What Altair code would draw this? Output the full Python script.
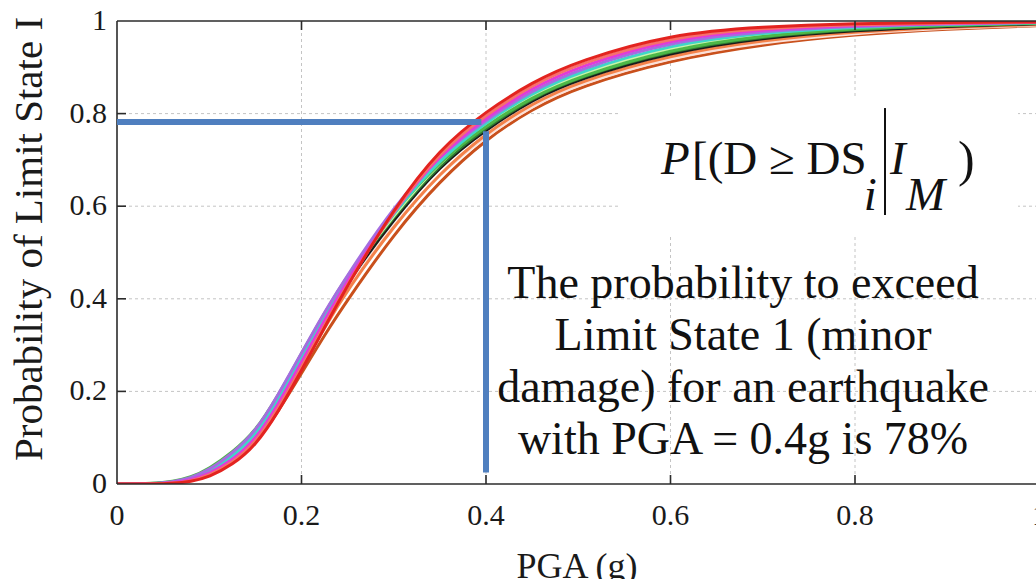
import altair as alt
import pandas as pd

# ---------------- data ----------------
PGA = [0, 0.04, 0.06, 0.08, 0.1, 0.125, 0.15, 0.175, 0.2, 0.225, 0.25,
       0.3, 0.35, 0.4, 0.45, 0.5, 0.6, 0.7, 0.8, 0.9, 1.0]

brown = [0, 0.0002, 0.0015, 0.007, 0.018, 0.045, 0.086, 0.157, 0.239, 0.322, 0.398,
         0.54, 0.655, 0.745, 0.81, 0.858, 0.916, 0.95, 0.971, 0.983, 0.99]
pale = [0, 0.0003, 0.002, 0.008, 0.02, 0.048, 0.09, 0.164, 0.252, 0.341, 0.425,
        0.56, 0.672, 0.752, 0.817, 0.864, 0.922, 0.955, 0.974, 0.985, 0.991]
orange = [0, 0.0003, 0.002, 0.008, 0.02, 0.048, 0.09, 0.164, 0.25, 0.338, 0.42,
          0.558, 0.672, 0.758, 0.822, 0.869, 0.927, 0.959, 0.977, 0.987, 0.992]
black = [0, 0.0005, 0.003, 0.01, 0.023, 0.054, 0.098, 0.172, 0.262, 0.352, 0.437,
         0.572, 0.688, 0.766, 0.83, 0.875, 0.933, 0.964, 0.98, 0.989, 0.994]
darkgreen = [0, 0.0005, 0.003, 0.01, 0.025, 0.056, 0.101, 0.177, 0.27, 0.361, 0.445,
             0.578, 0.692, 0.77, 0.834, 0.879, 0.937, 0.967, 0.982, 0.99, 0.995]
lightgreen = [0, 0.0005, 0.003, 0.011, 0.026, 0.058, 0.103, 0.18, 0.273, 0.364, 0.448,
              0.582, 0.697, 0.778, 0.841, 0.886, 0.946, 0.973, 0.986, 0.992, 0.996]
green = [0, 0.001, 0.005, 0.014, 0.033, 0.068, 0.113, 0.192, 0.282, 0.37, 0.452,
         0.588, 0.698, 0.774, 0.836, 0.88, 0.94, 0.969, 0.984, 0.991, 0.995]
cyan = [0, 0.0005, 0.003, 0.011, 0.026, 0.059, 0.104, 0.182, 0.275, 0.366, 0.449,
        0.587, 0.702, 0.782, 0.845, 0.89, 0.95, 0.975, 0.987, 0.993, 0.996]
purple = [0, 0.001, 0.004, 0.013, 0.03, 0.066, 0.112, 0.193, 0.283, 0.372, 0.452,
          0.6, 0.71, 0.787, 0.85, 0.896, 0.956, 0.978, 0.989, 0.994, 0.997]
magenta = [0, 0.0003, 0.002, 0.008, 0.022, 0.051, 0.095, 0.172, 0.264, 0.354, 0.442,
           0.59, 0.713, 0.792, 0.856, 0.902, 0.962, 0.982, 0.991, 0.995, 0.997]
salmon = [0, 0.0002, 0.0015, 0.006, 0.018, 0.046, 0.088, 0.163, 0.253, 0.343, 0.433,
          0.592, 0.718, 0.798, 0.862, 0.908, 0.966, 0.985, 0.993, 0.996, 0.998]
red = [0, 0.0001, 0.001, 0.005, 0.015, 0.041, 0.082, 0.156, 0.245, 0.338, 0.43,
       0.595, 0.725, 0.805, 0.868, 0.914, 0.972, 0.988, 0.995, 0.997, 0.998]

CURVES = [
    ("brown", brown, "#c9501c"),
    ("pale", pale, "#fbe0d8"),
    ("orange", orange, "#f4824a"),
    ("black", black, "#1a1a1a"),
    ("darkgreen", darkgreen, "#2f7d32"),
    ("lightgreen", lightgreen, "#c8f5a8"),
    ("green", green, "#4db848"),
    ("cyan", cyan, "#3fd6c8"),
    ("purple", purple, "#a46de0"),
    ("magenta", magenta, "#e23ad8"),
    ("salmon", salmon, "#f7706b"),
    ("red", red, "#e3231f"),
]

X_TICK_VALUES = [0, 0.2, 0.4, 0.6, 0.8, 1.0]
X_TICK_LABELS = ["0", "0.2", "0.4", "0.6", "0.8", "1"]
Y_TICK_VALUES = [0, 0.2, 0.4, 0.6, 0.8, 1.0]
Y_TICK_LABELS = ["0", "0.2", "0.4", "0.6", "0.8", "1"]
GRID_X = [0.2, 0.4, 0.6, 0.8]
GRID_Y = [0.2, 0.4, 0.6, 0.8]

X_TITLE = "PGA (g)"
Y_TITLE = "Probability of Limit State I"

PGA_MARK = 0.4
PROB_MARK = 0.78

DESCRIPTION_LINES = [
    "The probability to exceed",
    "Limit State 1 (minor",
    "damage) for an earthquake",
    "with PGA = 0.4g is 78%",
]

# ---------------- layout ----------------
W, H = 919, 463
UNIT = 922.5  # pixels per 1 g
FONT = "Liberation Serif"
AXIS_COLOR = "#2b2b2b"
TEXT_COLOR = "#1a1a1a"

rows = []
for name, vals, _ in CURVES:
    for x, y in zip(PGA, vals):
        rows.append({"pga": x, "p": y, "curve": name})
df = pd.DataFrame(rows)

xs = alt.Scale(domain=[0, W / UNIT], nice=False, zero=False)
ys = alt.Scale(domain=[0, 1], nice=False)

one = pd.DataFrame({"k": [0]})
xtick_df = pd.DataFrame({"v": X_TICK_VALUES, "lab": X_TICK_LABELS})
ytick_df = pd.DataFrame({"v": Y_TICK_VALUES, "lab": Y_TICK_LABELS})
gx_df = pd.DataFrame({"v": GRID_X})
gy_df = pd.DataFrame({"v": GRID_Y})


def fx(field):
    return alt.X(field, scale=xs, axis=None)


def fy(field):
    return alt.Y(field, scale=ys, axis=None)


def dx(v):
    return alt.X(datum=v, scale=xs, axis=None)


def dy(v):
    return alt.Y(datum=v, scale=ys, axis=None)


# grid
grid_x = alt.Chart(gx_df).mark_rule(color="#c4c4c4", strokeWidth=1, strokeDash=[3, 3]).encode(
    x=fx("v:Q"), y=alt.value(0), y2=alt.value(H))
grid_y = alt.Chart(gy_df).mark_rule(color="#c4c4c4", strokeWidth=1, strokeDash=[3, 3]).encode(
    y=fy("v:Q"), x=alt.value(0), x2=alt.value(W))

# white box behind the formula (hides grid)
box = alt.Chart(one).mark_rect(color="white").encode(
    x=dx(0.5463), x2=alt.X2(datum=0.9767), y=dy(0.838), y2=alt.Y2(datum=0.5356))

# curves
layers = []
for name, vals, col in CURVES:
    layers.append(
        alt.Chart(df).transform_filter(alt.datum.curve == name)
        .mark_line(color=col, strokeWidth=3, clip=True, interpolate="basis")
        .encode(x=fx("pga:Q"), y=fy("p:Q"))
    )

# frame, axis lines, inward ticks
rule_kw = dict(color=AXIS_COLOR, strokeWidth=1.6)
top_line = alt.Chart(one).mark_rule(**rule_kw).encode(
    x=alt.value(0), x2=alt.value(W), y=alt.value(0))
bottom_line = alt.Chart(one).mark_rule(**rule_kw).encode(
    x=alt.value(0), x2=alt.value(W), y=alt.value(H))
left_line = alt.Chart(one).mark_rule(**rule_kw).encode(
    x=alt.value(0), y=alt.value(0), y2=alt.value(H))
bot_ticks = alt.Chart(gx_df).mark_rule(**rule_kw).encode(
    x=fx("v:Q"), y=alt.value(H), y2=alt.value(H - 9))
top_ticks = alt.Chart(gx_df).mark_rule(**rule_kw).encode(
    x=fx("v:Q"), y=alt.value(0), y2=alt.value(9))
left_ticks = alt.Chart(gy_df).mark_rule(**rule_kw).encode(
    y=fy("v:Q"), x=alt.value(0), x2=alt.value(9))

# tick labels and titles
x_labels = alt.Chart(xtick_df).mark_text(
    font=FONT, fontSize=30, color=TEXT_COLOR, baseline="top", align="center"
).encode(x=fx("v:Q"), y=alt.value(H + 17), text="lab:N")
y_labels = alt.Chart(ytick_df).mark_text(
    font=FONT, fontSize=30, color=TEXT_COLOR, baseline="middle", align="right"
).encode(y=fy("v:Q"), x=alt.value(-10), text="lab:N")
x_title = alt.Chart(one).mark_text(
    text=X_TITLE, font=FONT, fontSize=36, color=TEXT_COLOR, baseline="top", align="center"
).encode(x=alt.value(460), y=alt.value(H + 66))
y_title = alt.Chart(one).mark_text(
    text=Y_TITLE, font=FONT, fontSize=41, color=TEXT_COLOR, baseline="alphabetic",
    align="center", angle=270
).encode(x=alt.value(-75), y=alt.value(218))

# blue guide lines
BLUE = "#4f7fbf"
h_line = alt.Chart(one).mark_rule(color=BLUE, strokeWidth=6, strokeCap="butt").encode(
    x=dx(0), x2=alt.X2(datum=PGA_MARK - 0.005), y=dy(PROB_MARK + 0.002))
v_line = alt.Chart(one).mark_rule(color=BLUE, strokeWidth=6, strokeCap="butt").encode(
    x=dx(PGA_MARK), y=dy(0.025), y2=alt.Y2(datum=PROB_MARK - 0.018))

# formula P[(D >= DS_i | I_M)
FS = 47


def piece(txt, x, y, italic, size=FS):
    return alt.Chart(one).mark_text(
        text=txt, font=FONT, fontSize=size, fontStyle="italic" if italic else "normal",
        align="left", baseline="alphabetic", color="#111111"
    ).encode(x=dx(x), y=dy(y))


formula = [
    piece("P", 0.5897, 0.67, True),
    piece("[(D ≥ DS", 0.6233, 0.67, False),
    piece("i", 0.8095, 0.5918, True),
    piece("I", 0.838, 0.67, True),
    piece("M", 0.8553, 0.5918, True),
    piece(")", 0.9117, 0.665, False, 50),
]
bar = alt.Chart(one).mark_rule(color="#111111", strokeWidth=2).encode(
    x=dx(0.8325), y=dy(0.812), y2=alt.Y2(datum=0.581))

desc = alt.Chart(one).mark_text(
    text=DESCRIPTION_LINES, font=FONT, fontSize=46, lineHeight=52,
    align="center", baseline="alphabetic", color="#111111"
).encode(x=dx(0.6786), y=dy(0.4017))

chart = alt.layer(
    grid_x, grid_y, box, *layers, top_line, bottom_line, left_line,
    bot_ticks, top_ticks, left_ticks, x_labels, y_labels, x_title, y_title,
    h_line, v_line, *formula, bar, desc
).properties(
    width=W, height=H,
    padding={"left": 117, "top": 21, "right": 0, "bottom": 95},
    autosize=alt.AutoSizeParams(type="none"),
).configure(
    background="white",
    view=alt.ViewConfig(stroke=None),
)

chart.save("out.html", embed_options={"renderer": "svg", "actions": False})
